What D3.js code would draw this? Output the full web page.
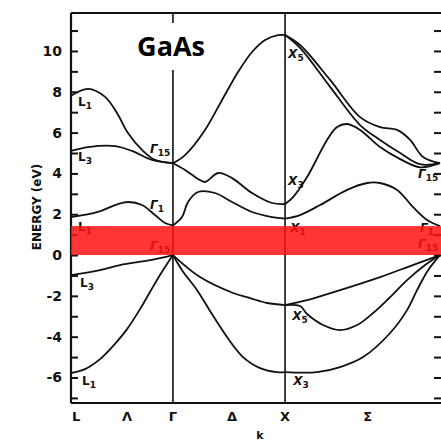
<!DOCTYPE html>
<html>
<head>
<meta charset="utf-8">
<script src="https://cdn.jsdelivr.net/npm/d3@7"></script>
<style>
  html, body { margin: 0; padding: 0; background: #fff; }
  svg { display: block; }
</style>
</head>
<body>
<script>
// k path positions (arbitrary units along L - Gamma - X - Gamma)
var symPoints = [0, 1, 2.1, 3.62];
var kNames = ["L", "Λ", "Γ", "Δ", "X", "Σ"];
var kNamePos = [0.05, 0.55, 1, 1.58, 2.1, 2.91];

var majorTicks = [-6, -4, -2, 0, 2, 4, 6, 8, 10];
var minorTicks = d3.range(-7, 12);
var gap = [0, 1.42];

// bands, [k, E] pairs
var c1 = [[0,7.8],[0.167,8.14],[0.334,7.75],[0.451,6.96],[0.559,5.98],[0.697,5.15],[0.824,4.66],[1,4.5]];
var c2 = [[0,5.1],[0.167,5.29],[0.432,5.34],[0.599,5.1],[0.795,4.66],[1,4.5]];
var c3 = [[0,1.86],[0.265,2.11],[0.432,2.45],[0.559,2.6],[0.697,2.45],[0.824,1.96],[0.922,1.57],[1,1.45]];
var c4 = [[1,4.5],[1.119,4.9],[1.315,6.13],[1.482,7.6],[1.639,8.97],[1.776,9.95],[1.904,10.54],[2.031,10.78],[2.1,10.78]];
var c5 = [[1,4.5],[1.119,4.17],[1.246,3.73],[1.315,3.58],[1.443,4.02],[1.58,3.77],[1.776,3.04],[1.973,2.55],[2.1,2.5]];
var c6 = [[1,1.45],[1.089,1.86],[1.148,2.6],[1.246,3.09],[1.413,3.04],[1.58,2.6],[1.776,2.11],[1.973,1.86],[2.1,1.78]];
var c7 = [[2.1,10.78],[2.247,10.29],[2.542,8.58],[2.836,6.76],[3.032,6.27],[3.199,6.13],[3.327,5.64],[3.454,4.8],[3.62,4.5]];
var c8 = [[2.1,10.78],[2.247,10.15],[2.542,8.24],[2.836,6.37],[3.032,5.64],[3.229,5.0],[3.425,4.45],[3.62,4.5]];
var c9 = [[2.1,2.5],[2.179,2.84],[2.316,3.82],[2.512,5.64],[2.61,6.27],[2.709,6.42],[2.836,6.13],[3.032,5.29],[3.229,4.7],[3.425,4.3],[3.62,4.5]];
var c10 = [[2.1,1.78],[2.247,1.96],[2.444,2.45],[2.709,3.19],[2.905,3.53],[3.032,3.53],[3.199,3.19],[3.356,2.35],[3.494,1.72],[3.62,1.42]];

var v1 = [[0,-0.98],[0.285,-0.74],[0.481,-0.49],[0.775,-0.25],[1,0]];
var v2 = [[0,-5.78],[0.137,-5.59],[0.285,-5.1],[0.412,-4.46],[0.55,-3.63],[0.677,-2.65],[0.775,-1.81],[0.873,-0.98],[1,0]];
var v3 = [[1,0],[1.089,-0.74],[1.237,-1.72],[1.364,-2.74],[1.531,-4.02],[1.688,-5.0],[1.855,-5.54],[2.022,-5.74],[2.1,-5.74]];
var v4 = [[1,0],[1.266,-1.08],[1.59,-1.86],[1.757,-2.11],[1.923,-2.35],[2.1,-2.45]];
var v5 = [[2.1,-2.45],[2.316,-2.21],[2.64,-1.72],[3.032,-1.08],[3.327,-0.54],[3.62,0]];
var v6 = [[2.1,-2.45],[2.247,-2.5],[2.316,-2.89],[2.473,-3.43],[2.64,-3.68],[2.807,-3.43],[2.964,-2.84],[3.131,-2.06],[3.297,-1.23],[3.474,-0.49],[3.62,0]];
var v7 = [[2.1,-5.74],[2.414,-5.74],[2.64,-5.49],[2.866,-5.0],[3.131,-3.82],[3.297,-2.7],[3.395,-1.72],[3.503,-0.74],[3.62,0]];

var bands = [c1, c2, c3, c4, c5, c6, c7, c8, c9, c10, v1, v2, v3, v4, v5, v6, v7];

// point labels: main letter, subscript, anchor [k, E]
var pointLabels = [
  ["L","1",0.069,7.3], ["L","3",0.069,4.61], ["Γ","15",0.775,5.0], ["Γ","1",0.775,2.25],
  ["L","1",0.069,1.18], ["Γ","15",0.775,0.25], ["L","3",0.088,-1.57], ["L","1",0.108,-6.37],
  ["X","5",2.13,9.66], ["X","3",2.13,3.43], ["X","1",2.15,1.13], ["Γ","15",3.405,3.77],
  ["Γ","1",3.425,1.13], ["Γ","15",3.405,0.34], ["X","5",2.17,-3.19], ["X","3",2.18,-6.37]
];

var W = 441, H = 441;
var svg = d3.select("body").append("svg").attr("width", W).attr("height", H);

var x = d3.scaleLinear().domain([0, 3.62]).range([71, 440]);
var y = d3.scaleLinear().domain([-7.25, 11.86]).range([403, 13]);

var ink = "#111";

// left ticks (inward) and labels
svg.append("g")
  .attr("transform", "translate(71,0)")
  .call(d3.axisRight(y).tickValues(minorTicks).tickSize(7).tickFormat(""))
  .call(g => g.select(".domain").remove())
  .selectAll("line").attr("stroke", ink).attr("stroke-width", 2);

svg.append("g")
  .attr("transform", "translate(71,0)")
  .call(d3.axisLeft(y).tickValues(majorTicks).tickSize(0).tickPadding(9)
    .tickFormat(d => d < 0 ? "-" + (-d) : d))
  .call(g => g.select(".domain").remove())
  .selectAll("text")
    .attr("fill", ink)
    .style("font-family", "DejaVu Sans")
    .style("font-weight", "bold")
    .style("font-size", "14px");

// right ticks
svg.append("g")
  .attr("transform", "translate(441,0)")
  .call(d3.axisLeft(y).tickValues(minorTicks).tickSize(7).tickFormat(""))
  .call(g => g.select(".domain").remove())
  .selectAll("line").attr("stroke", ink).attr("stroke-width", 2);

// frame
svg.append("line").attr("x1", x(0)).attr("x2", x(0)).attr("y1", y.range()[1]).attr("y2", y.range()[0])
  .attr("stroke", ink).attr("stroke-width", 2.2);
svg.append("line").attr("x1", x(0)).attr("x2", W).attr("y1", y.range()[1]).attr("y2", y.range()[1])
  .attr("stroke", ink).attr("stroke-width", 2);
svg.append("line").attr("x1", x(0)).attr("x2", W).attr("y1", y.range()[0]).attr("y2", y.range()[0])
  .attr("stroke", ink).attr("stroke-width", 2);

// symmetry point verticals
svg.selectAll("line.sym")
  .data(symPoints.slice(1, 3))
  .enter().append("line")
  .attr("class", "sym")
  .attr("x1", d => x(d)).attr("x2", d => x(d))
  .attr("y1", y.range()[1]).attr("y2", y.range()[0])
  .attr("stroke", ink).attr("stroke-width", 1.6);

// bands
var line = d3.line().x(d => x(d[0])).y(d => y(d[1])).curve(d3.curveCatmullRom.alpha(0.5));
svg.selectAll("path.band")
  .data(bands)
  .enter().append("path")
  .attr("class", "band")
  .attr("d", line)
  .attr("fill", "none")
  .attr("stroke", ink)
  .attr("stroke-width", 1.8);

// point labels
var pl = svg.selectAll("text.pl")
  .data(pointLabels)
  .enter().append("text")
  .attr("class", "pl")
  .attr("x", d => x(d[2]))
  .attr("y", d => y(d[3]))
  .attr("fill", ink)
  .style("font-family", "DejaVu Sans")
  .style("font-weight", "bold")
  .style("font-size", "12px");
pl.append("tspan")
  .style("font-style", d => d[0] === "L" ? "normal" : "italic")
  .text(d => d[0]);
pl.append("tspan")
  .attr("dy", 3)
  .style("font-size", "9px")
  .text(d => d[1]);

// k point names
svg.selectAll("text.kn")
  .data(kNames)
  .enter().append("text")
  .attr("class", "kn")
  .attr("x", (d, i) => x(kNamePos[i]))
  .attr("y", 421)
  .attr("text-anchor", "middle")
  .attr("fill", ink)
  .style("font-family", "DejaVu Sans")
  .style("font-weight", "bold")
  .style("font-size", "13px")
  .text(d => d);

svg.append("text")
  .attr("x", 260).attr("y", 439)
  .attr("text-anchor", "middle")
  .attr("fill", ink)
  .style("font-family", "DejaVu Sans")
  .style("font-weight", "bold")
  .style("font-size", "11px")
  .text("k");

// axis title
svg.append("text")
  .attr("transform", "translate(41,207) rotate(-90)")
  .attr("text-anchor", "middle")
  .attr("fill", ink)
  .style("font-family", "DejaVu Sans")
  .style("font-weight", "bold")
  .style("font-size", "12px")
  .text("ENERGY (eV)");

// band gap highlight
svg.append("rect")
  .attr("x", x(0)).attr("width", W - x(0))
  .attr("y", y(gap[1])).attr("height", y(gap[0]) - y(gap[1]))
  .attr("fill", "#ff1010")
  .attr("fill-opacity", 0.85);

// material label on white patch
svg.append("rect")
  .attr("x", 122).attr("y", 23).attr("width", 92).attr("height", 47)
  .attr("fill", "#fff");
svg.append("text")
  .attr("x", 205).attr("y", 56)
  .attr("text-anchor", "end")
  .attr("fill", "#000")
  .style("font-family", "Open Sans")
  .style("font-weight", "bold")
  .style("font-size", "27px")
  .text("GaAs");
</script>
</body>
</html>
